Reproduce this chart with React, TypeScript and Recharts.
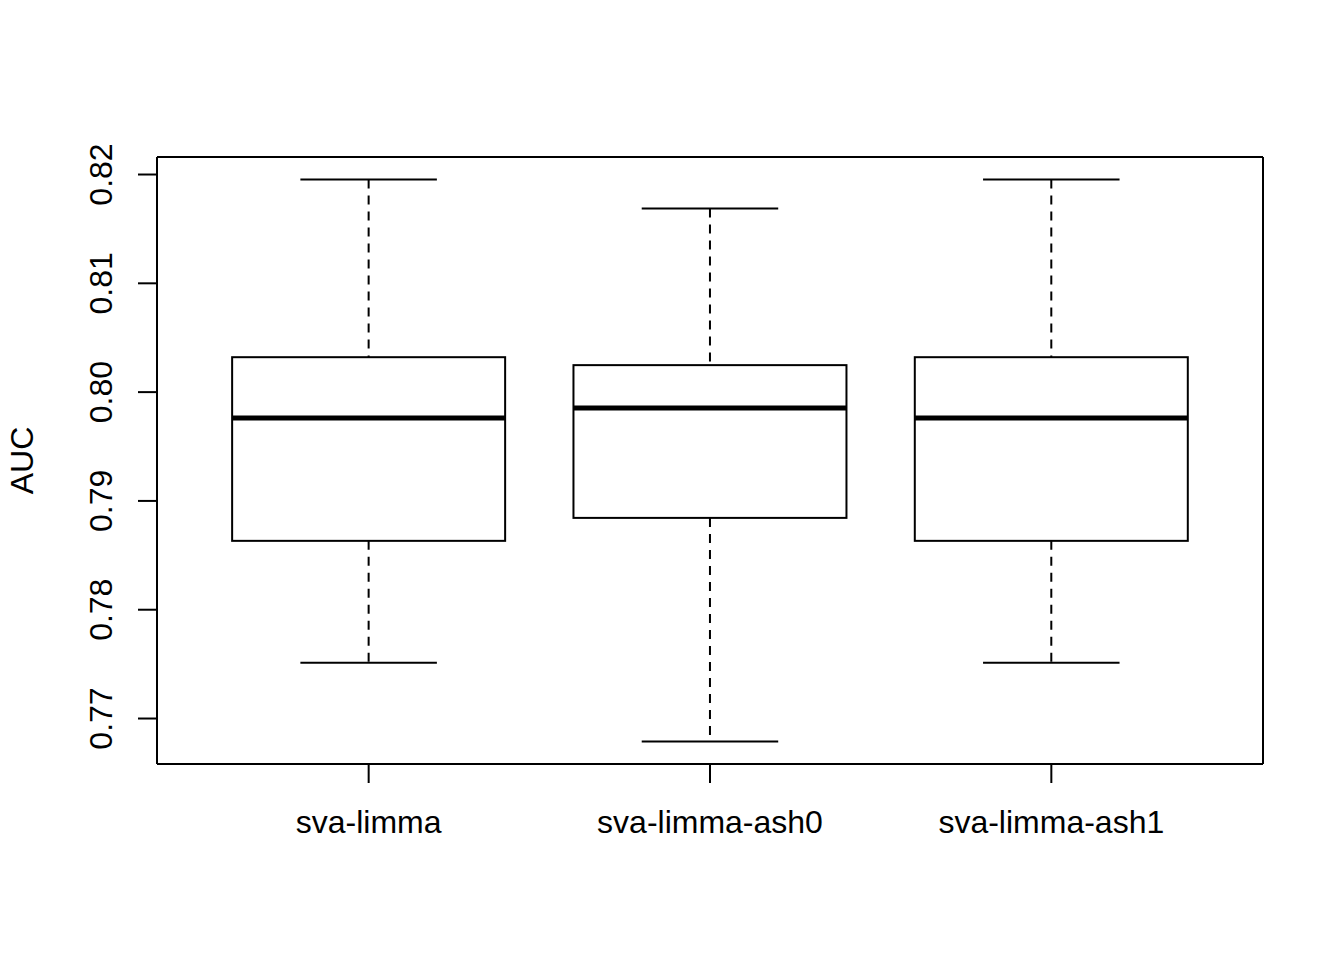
import React from 'react';
import { ComposedChart, Bar, XAxis, YAxis, CartesianGrid } from 'recharts';

const categories = ['sva-limma', 'sva-limma-ash0', 'sva-limma-ash1'];
const lowerWhisker = [0.77513, 0.76789, 0.77513];
const lowerHinge = [0.78633, 0.78844, 0.78633];
const medians = [0.79761, 0.79853, 0.79761];
const upperHinge = [0.80321, 0.80248, 0.80321];
const upperWhisker = [0.81954, 0.81688, 0.81954];
const yTicks = [0.77, 0.78, 0.79, 0.8, 0.81, 0.82];
const yDomain = [0.76582, 0.82161];
const yLabel = 'AUC';

const data = categories.map((name, i) => ({
  name,
  lo: lowerWhisker[i],
  q1: lowerHinge[i],
  med: medians[i],
  q3: upperHinge[i],
  hi: upperWhisker[i],
}));

const FONT = '"Liberation Sans", Arial, Helvetica, sans-serif';
const FS = 32;

const BoxShape = (props: any) => {
  const { x, y, width, height, payload } = props;
  if (x == null || y == null) return null;
  const { lo, q1, med, q3, hi } = payload;
  const py = (v: number) => y + ((hi - v) / (hi - lo)) * height;
  const cx = x + width / 2;
  const capHalf = width / 4;
  return (
    <g>
      <line x1={cx} x2={cx} y1={py(hi)} y2={py(q3)} stroke="#000" strokeWidth={2} strokeDasharray="9 7" />
      <line x1={cx} x2={cx} y1={py(q1)} y2={py(lo)} stroke="#000" strokeWidth={2} strokeDasharray="9 7" />
      <line x1={cx - capHalf} x2={cx + capHalf} y1={py(hi)} y2={py(hi)} stroke="#000" strokeWidth={2} />
      <line x1={cx - capHalf} x2={cx + capHalf} y1={py(lo)} y2={py(lo)} stroke="#000" strokeWidth={2} />
      <rect x={x} y={py(q3)} width={width} height={py(q1) - py(q3)} fill="#fff" stroke="#000" strokeWidth={2} />
      <line x1={x} x2={x + width} y1={py(med)} y2={py(med)} stroke="#000" strokeWidth={5} />
    </g>
  );
};

const YTick = (props: any) => {
  const { x, y, payload } = props;
  return (
    <text
      x={x}
      y={y}
      transform={`rotate(-90, ${x}, ${y})`}
      textAnchor="middle"
      fontSize={FS}
      fontFamily={FONT}
      fill="#000"
    >
      {Number(payload.value).toFixed(2)}
    </text>
  );
};

const XTick = (props: any) => {
  const { x, y, payload } = props;
  return (
    <text x={x} y={y} textAnchor="middle" fontSize={FS} fontFamily={FONT} fill="#000">
      {payload.value}
    </text>
  );
};

const YLabel = (props: any) => {
  const vb = props.viewBox || {};
  const x = vb.x;
  const y = vb.y + vb.height / 2;
  return (
    <text
      x={x}
      y={y}
      transform={`rotate(-90, ${x}, ${y})`}
      textAnchor="middle"
      fontSize={FS}
      fontFamily={FONT}
      fill="#000"
    >
      {yLabel}
    </text>
  );
};

const line = { stroke: '#000', strokeWidth: 2 };

export default function App() {
  return (
    <div style={{ position: 'absolute', left: 0, top: 0, width: 1344, height: 960, background: '#fff' }}>
      <ComposedChart
        width={1344}
        height={960}
        data={data}
        margin={{ top: 157, right: 81, bottom: 96, left: 33 }}
        barCategoryGap="10%"
      >
        <CartesianGrid
          stroke="#000"
          strokeWidth={2}
          strokeDasharray=""
          fill="none"
          horizontalCoordinatesGenerator={({ offset }: any) => [offset.top, offset.top + offset.height]}
          verticalCoordinatesGenerator={({ offset }: any) => [offset.left, offset.left + offset.width]}
        />
        <XAxis
          dataKey="name"
          type="category"
          padding={{ left: 41, right: 41 }}
          height={100}
          tickSize={19}
          tickMargin={50}
          axisLine={line}
          tickLine={line}
          tick={<XTick />}
          interval={0}
        />
        <YAxis
          type="number"
          domain={yDomain}
          ticks={yTicks}
          allowDataOverflow
          width={124}
          tickSize={19}
          tickMargin={26}
          axisLine={line}
          tickLine={line}
          tick={<YTick />}
          interval={0}
          label={(p: any) => <YLabel {...p} />}
        />
        <Bar
          dataKey={(d: any) => [d.lo, d.hi]}
          isAnimationActive={false}
          shape={<BoxShape />}
          fill="none"
        />
      </ComposedChart>
    </div>
  );
}
